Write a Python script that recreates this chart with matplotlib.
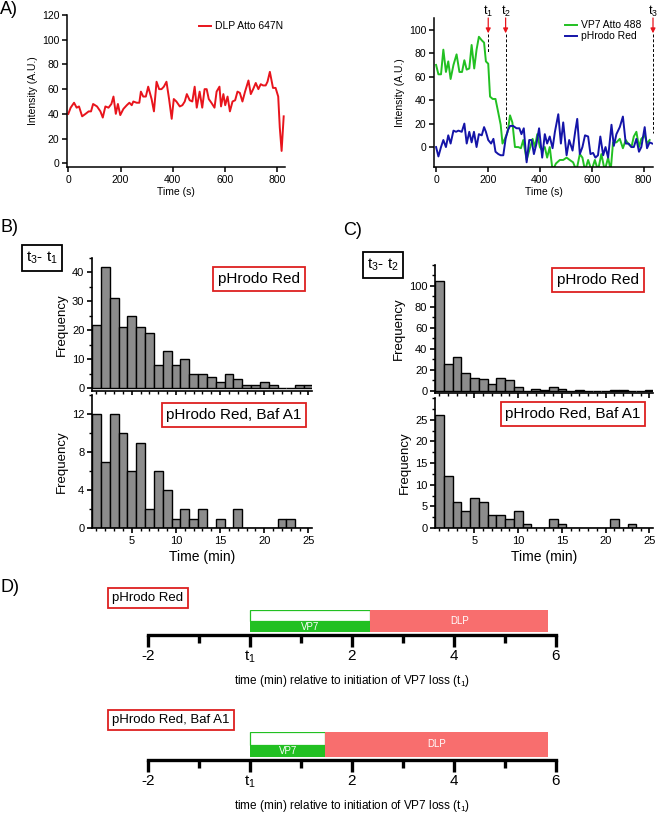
import matplotlib.pyplot as plt
from matplotlib.ticker import MultipleLocator

plt.rcParams['font.family'] = ['Liberation Sans', 'DejaVu Sans']

# ---- data ----
# A) single-particle traces (time in s, intensity in A.U.)
dlp_t = [0, 9, 22, 32, 41, 53, 66, 78, 87, 95, 110, 123, 132, 142, 154, 165, 173, 182, 190, 199,
         211, 224, 234, 243, 249, 262, 272, 278, 287, 297, 306, 319, 328, 338, 348, 357, 366, 376, 386, 396,
         404, 414, 427, 437, 446, 454, 465, 475, 484, 492, 503, 513, 522, 530, 538, 548, 560, 568, 579, 585,
         594, 601, 610, 619, 629, 639, 648, 657, 667, 677, 690, 699, 708, 718, 728, 737, 746, 756, 763, 772,
         784, 794, 804, 810, 817, 825]
dlp_v = [40, 45, 49, 45, 46, 38, 40, 42, 42, 48, 46, 42, 37, 46, 45, 48, 54, 40, 48, 39,
         44, 47, 49, 47, 50, 49, 49, 58, 54, 54, 62, 52, 42, 66, 60, 60, 62, 66, 52, 36,
         52, 50, 46, 47, 50, 56, 51, 50, 62, 45, 58, 45, 60, 60, 52, 49, 45, 58, 62, 46,
         56, 47, 54, 42, 50, 51, 58, 57, 50, 58, 67, 56, 60, 65, 60, 64, 63, 63, 66, 74,
         61, 61, 54, 29, 10, 38]

vp7_t = [0, 9, 19, 28, 38, 47, 56, 67, 79, 90, 100, 109, 118, 128, 137, 147, 156, 165, 176, 185,
         192, 201, 208, 218, 229, 240, 249, 256, 265, 276, 285, 294, 304, 317, 327, 336, 349, 359, 372, 381,
         390, 400, 409, 419, 428, 438, 449, 462, 477, 490, 503, 515, 528, 541, 554, 564, 574, 586, 599, 612,
         624, 637, 650, 663, 673, 682, 695, 708, 720, 731, 740, 753, 762, 772, 782, 791, 804, 813, 823]
vp7_v = [70, 62, 62, 83, 64, 73, 58, 70, 79, 64, 64, 74, 66, 67, 87, 67, 83, 94, 91, 89,
         73, 71, 43, 41, 41, 29, 19, 3, 7, 13, 27, 21, 0, 0, -1, 6, -11, -3, 7, 0,
         11, 0, -3, 0, -9, 0, -20, -14, -11, -11, -9, -11, -13, -20, -6, -9, -20, -11, -20, -11,
         -20, -6, -20, -9, -20, 4, 4, 7, -1, 6, 3, 0, 9, 13, 0, 7, 10, 3, 6]

ph_t = [0, 9, 19, 28, 38, 47, 56, 67, 77, 86, 99, 109, 118, 128, 137, 146, 156, 165, 176, 185,
        192, 201, 212, 221, 229, 240, 249, 259, 268, 276, 285, 297, 310, 321, 329, 338, 349, 359, 368, 377,
        387, 397, 409, 419, 428, 438, 449, 458, 471, 481, 490, 503, 513, 526, 536, 544, 554, 564, 574, 586,
        595, 605, 614, 624, 633, 644, 653, 663, 676, 685, 695, 708, 720, 731, 742, 753, 762, 772, 782, 791,
        804, 813, 823, 833]
ph_v = [0, -8, 0, 6, 0, 10, 3, 14, 13, 14, 13, 20, 3, 13, 4, 13, 0, 11, 10, 17,
        13, 6, 3, 7, -4, -6, -7, -7, 7, 14, 18, 18, 16, 16, 11, 16, -13, 6, 6, -6,
        3, 16, -9, 11, 3, 9, -1, 13, 28, 3, 21, -7, 6, -3, 13, 24, -6, 0, 10, 9,
        -6, -5, -9, -7, 9, -7, 0, -9, 19, 1, 11, 17, 26, 3, 3, 0, 0, 7, -4, 0,
        17, -1, 4, 3]

mark_labels = ['t_1', 't_2', 't_3']
mark_t = [201, 268, 836]
mark_end = [81, 16, 12]

# B) / C) histograms, 1-min bins
bin_centers = [1, 2, 3, 4, 5, 6, 7, 8, 9, 10, 11, 12, 13, 14, 15, 16, 17, 18, 19, 20, 21, 22, 23, 24, 25]
b_ph = [22, 42, 31, 21, 25, 21, 19, 8, 13, 8, 10, 5, 5, 4, 2, 5, 3, 1, 1, 2, 1, 0, 0, 1, 1]
b_baf = [12, 7, 12, 10, 6, 9, 2, 6, 4, 1, 2, 1, 2, 0, 1, 0, 2, 0, 0, 0, 0, 1, 1, 0, 0]
c_ph = [105, 26, 32, 17, 12, 11, 7, 12, 10, 4, 0, 2, 1, 4, 2, 0, 1, 0, 0, 0, 1, 1, 0, 0, 1]
c_baf = [26, 12, 6, 4, 7, 6, 3, 3, 2, 4, 1, 0, 0, 2, 1, 0, 0, 0, 0, 0, 2, 0, 1, 0, 0]

# D) timelines (min relative to t1)
conditions = ['pHrodo Red', 'pHrodo Red, Baf A1']
vp7_end = [2.36, 1.48]
dlp_end = [5.85, 5.85]
d_ticks = [-2, 0, 2, 4, 6]
d_ticklabels = ['-2', r'$\mathregular{t_1}$', '2', '4', '6']

RED = '#e8141c'
GREEN = '#22c022'
BLUE = '#1414a8'
BOXRED = '#dd2020'
W, H = 660, 815

fig = plt.figure(figsize=(6.6, 8.15), dpi=100)


def rect(l, t, r, b):
    return [l / W, 1 - b / H, (r - l) / W, (b - t) / H]


def clean(ax, lw=1.1):
    for s in ['top', 'right']:
        ax.spines[s].set_visible(False)
    for s in ['left', 'bottom']:
        ax.spines[s].set_linewidth(lw)
    ax.tick_params(direction='out', labelsize=7.5, width=lw, length=3.5, pad=2)


def boxlabel(x, y, txt, size, ec):
    fig.text(x / W, 1 - y / H, txt, fontsize=size, ha='center', va='center',
             bbox=dict(boxstyle='square,pad=0.3', fc='white', ec=ec, lw=1.3))


# ---- A left ----
ax = fig.add_axes(rect(67, 15, 285, 167))
ax.plot(dlp_t, dlp_v, color=RED, lw=1.4, label='DLP Atto 647N')
ax.set_xlim(-5, 830)
ax.set_ylim(-3, 120)
ax.set_xticks([0, 200, 400, 600, 800])
ax.set_yticks([0, 20, 40, 60, 80, 100, 120])
clean(ax)
ax.set_xlabel('Time (s)', fontsize=7.5, labelpad=2)
ax.set_ylabel('Intensity (A.U.)', fontsize=7.5, labelpad=3)
ax.legend(loc='upper right', frameon=False, fontsize=7.5, handlelength=1.1,
          handletextpad=0.4, borderaxespad=0.2, bbox_to_anchor=(1.02, 1.0))

# ---- A right ----
ax = fig.add_axes(rect(434, 18, 653, 167))
ax.plot(vp7_t, vp7_v, color=GREEN, lw=1.4, label='VP7 Atto 488')
ax.plot(ph_t, ph_v, color=BLUE, lw=1.4, label='pHrodo Red')
ax.set_xlim(-8, 836)
ax.set_ylim(-17, 110)
ax.set_xticks([0, 200, 400, 600, 800])
ax.set_yticks([0, 20, 40, 60, 80, 100])
clean(ax)
ax.set_xlabel('Time (s)', fontsize=7.5, labelpad=2)
ax.set_ylabel('Intensity (A.U.)', fontsize=7.5, labelpad=3)
ax.legend(loc='upper right', frameon=False, fontsize=7.5, handlelength=1.1,
          handletextpad=0.4, borderaxespad=0.1, labelspacing=0.1,
          bbox_to_anchor=(0.97, 1.02))
for lab, t, e in zip(mark_labels, mark_t, mark_end):
    ax.plot([t, t], [96, e], color='black', lw=0.7, dashes=(3, 2), clip_on=False)
    ax.annotate('', xy=(t, 97), xytext=(t, 110), annotation_clip=False,
                arrowprops=dict(arrowstyle='-|>', color=RED, lw=0.9, mutation_scale=7,
                                shrinkA=0, shrinkB=0))
    ax.text(t, 116, r'$\mathregular{%s}$' % lab, fontsize=9, ha='center', va='center')

# ---- B / C histograms ----
def hist(rc, counts, ylim, major, minor, bottom):
    ax = fig.add_axes(rect(*rc))
    ax.bar(bin_centers, counts, width=1.0, color='#8c8c8c', edgecolor='black', linewidth=1.0)
    ax.set_xlim(0.5, 25.4)
    ax.set_ylim(*ylim)
    ax.xaxis.set_major_locator(MultipleLocator(5))
    ax.xaxis.set_minor_locator(MultipleLocator(1))
    ax.yaxis.set_major_locator(MultipleLocator(major))
    ax.yaxis.set_minor_locator(MultipleLocator(minor))
    ax.set_yticks([v for v in ax.get_yticks() if 0 <= v <= ylim[1] - 1])
    clean(ax, lw=1.2)
    ax.tick_params(labelsize=8)
    ax.tick_params(which='minor', direction='out', length=2.5, width=1.0)
    ax.set_ylabel('Frequency', fontsize=9.5, labelpad=3)
    if bottom:
        ax.set_xlabel('Time (min)', fontsize=10, labelpad=3)
    else:
        ax.tick_params(axis='x', labelbottom=False)
    return ax


hist((92, 258, 312, 391), b_ph, (-1, 45), 10, 5, False)
hist((92, 395, 312, 528), b_baf, (0, 14), 4, 2, True)
hist((435, 265, 653, 393), c_ph, (-2, 120), 20, 10, False)
hist((435, 398, 653, 528), c_baf, (0, 30), 5, 2.5, True)

boxlabel(259, 279, 'pHrodo Red', 11, BOXRED)
boxlabel(234, 415, 'pHrodo Red, Baf A1', 11, BOXRED)
boxlabel(598, 280, 'pHrodo Red', 11, BOXRED)
boxlabel(573, 414, 'pHrodo Red, Baf A1', 11, BOXRED)
boxlabel(42, 258, r'$\mathregular{t_3}$- $\mathregular{t_1}$', 11, 'black')
boxlabel(383, 265, r'$\mathregular{t_3}$- $\mathregular{t_2}$', 11, 'black')

# ---- D timelines ----
d_rects = [(148, 610, 556, 635), (148, 732, 556, 760)]
d_boxes = [(148, 598), (171, 720)]
for i, cond in enumerate(conditions):
    ax = fig.add_axes(rect(*d_rects[i]))
    ax.barh(0.55, vp7_end[i], left=0, height=0.45, align='edge',
            color='white', edgecolor=GREEN, linewidth=0.9)
    ax.barh(0.11, vp7_end[i], left=0, height=0.44, align='edge', color=GREEN, linewidth=0)
    ax.barh(0.11, dlp_end[i] - vp7_end[i], left=vp7_end[i], height=0.89, align='edge',
            color='#f86e6e', linewidth=0)
    ax.text(vp7_end[i] / 2, 0.33, 'VP7', color='white', fontsize=7, ha='center', va='center')
    ax.text((vp7_end[i] + dlp_end[i]) / 2, 0.58, 'DLP', color='white', fontsize=7,
            ha='center', va='center')
    ax.set_xlim(-2, 6)
    ax.set_ylim(0, 1)
    for s in ['top', 'right', 'left']:
        ax.spines[s].set_visible(False)
    ax.spines['bottom'].set_linewidth(2.4)
    ax.set_yticks([])
    ax.set_xticks(d_ticks)
    ax.set_xticklabels(d_ticklabels)
    ax.set_xticks([-1, 1, 3, 5], minor=True)
    ax.tick_params(which='major', direction='out', length=8.5, width=2.4, labelsize=11, pad=1.5)
    ax.tick_params(which='minor', direction='out', length=5.5, width=2.4)
    ax.annotate(r'time (min) relative to initiation of VP7 loss (t$\mathregular{_1}$)',
                xy=(0.5, 0), xycoords='axes fraction', xytext=(0, -33),
                textcoords='offset points', fontsize=8.5, ha='center', va='center')
    boxlabel(d_boxes[i][0], d_boxes[i][1], cond, 9.5, BOXRED)

# panel letters
for lab, x, y in [('A)', 0, 10), ('B)', 0, 228), ('C)', 343, 231), ('D)', 0, 588)]:
    fig.text(x / W, 1 - y / H, lab, fontsize=13, ha='left', va='center')

fig.savefig('out.png', dpi=100)
